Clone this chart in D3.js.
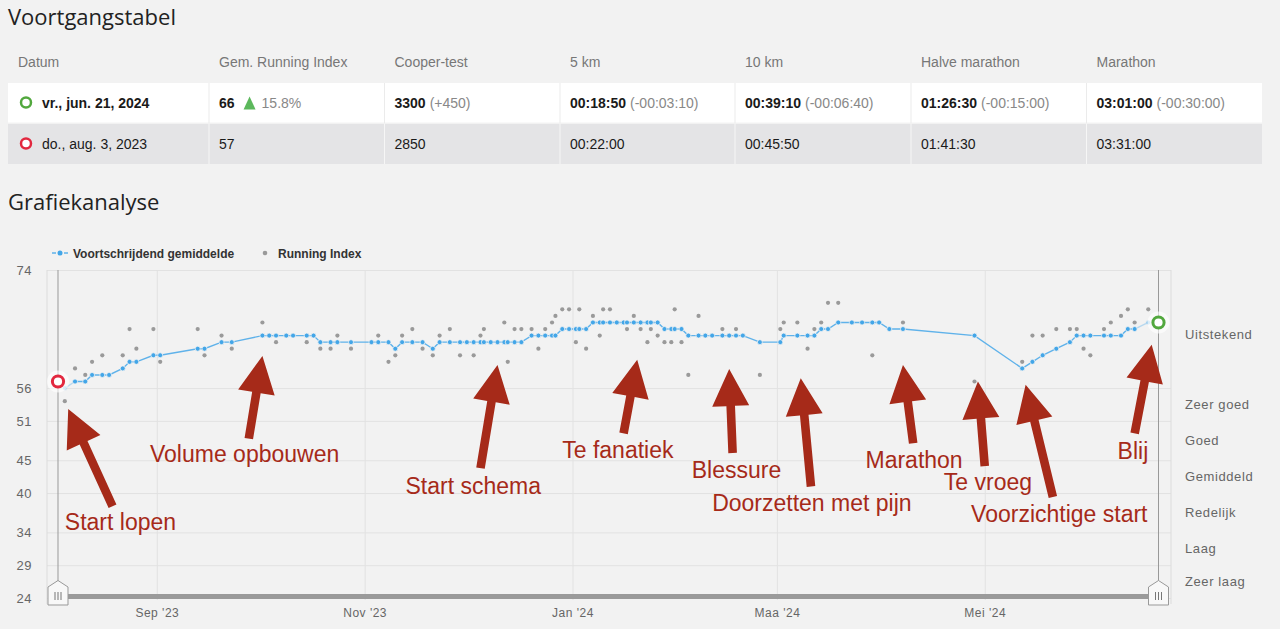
<!DOCTYPE html>
<html>
<head>
<meta charset="utf-8">
<script src="https://cdn.jsdelivr.net/npm/d3@7"></script>
<style>
  body { margin: 0; background: #f2f2f2; }
  svg text { font-family: "Liberation Sans", Arial, Helvetica, sans-serif; }
  .title { font-family: "Open Sans", sans-serif; font-size: 22px; fill: #222; }
</style>
</head>
<body>
<div id="wrapper"></div>
<script>
// ---- table data
const headers = ["Datum", "Gem. Running Index", "Cooper-test", "5 km", "10 km", "Halve marathon", "Marathon"]
const latestRow = ["vr., jun. 21, 2024", "66", "3300", "00:18:50", "00:39:10", "01:26:30", "03:01:00"]
const latestDelta = [null, "15.8%", "(+450)", "(-00:03:10)", "(-00:06:40)", "(-00:15:00)", "(-00:30:00)"]
const firstRow = ["do., aug. 3, 2023", "57", "2850", "00:22:00", "00:45:50", "01:41:30", "03:31:00"]

// ---- chart data
const dates = [
  "2023-08-05","2023-08-08","2023-08-11","2023-08-13","2023-08-16","2023-08-18","2023-08-22","2023-08-24","2023-08-26","2023-08-31",
  "2023-09-02","2023-09-13","2023-09-15","2023-09-20","2023-09-23","2023-10-02","2023-10-04","2023-10-06","2023-10-09","2023-10-11",
  "2023-10-15","2023-10-17","2023-10-19","2023-10-22","2023-10-24","2023-10-28","2023-11-03","2023-11-05","2023-11-08","2023-11-10",
  "2023-11-12","2023-11-15","2023-11-18","2023-11-21","2023-11-23","2023-11-26","2023-11-29","2023-12-01","2023-12-03","2023-12-05",
  "2023-12-06","2023-12-08","2023-12-10","2023-12-12","2023-12-13","2023-12-15","2023-12-17","2023-12-20","2023-12-22","2023-12-24",
  "2023-12-26","2023-12-27","2023-12-29","2023-12-31","2024-01-02","2024-01-03","2024-01-05","2024-01-07","2024-01-09","2024-01-10",
  "2024-01-12","2024-01-14","2024-01-16","2024-01-17","2024-01-19","2024-01-21","2024-01-23","2024-01-24","2024-01-26","2024-01-28",
  "2024-01-30","2024-01-31","2024-02-02","2024-02-04","2024-02-07","2024-02-09","2024-02-11","2024-02-14","2024-02-16","2024-02-18",
  "2024-02-20","2024-02-25","2024-03-02","2024-03-03","2024-03-07","2024-03-10","2024-03-12","2024-03-14","2024-03-16","2024-03-19",
  "2024-03-23","2024-03-26","2024-03-29","2024-03-31","2024-04-03","2024-04-07","2024-04-28","2024-05-12","2024-05-15","2024-05-18",
  "2024-05-22","2024-05-26","2024-05-28","2024-05-30","2024-06-01","2024-06-05","2024-06-07","2024-06-10","2024-06-12","2024-06-14",
  "2024-06-18"
]
const runningIndex = [
  54,59,58,60,61,58,61,65,62,65,
  60,65,61,64,62,66,64,63,64,64,
  63,64,62,62,64,62,63,64,60,61,
  64,65,62,61,64,65,61,63,61,64,
  65,63,63,66,60,65,65,65,62,65,
  66,67,68,68,63,68,62,67,64,68,
  68,66,66,65,67,65,63,65,64,63,
  63,68,63,58,67,64,64,65,64,65,
  64,58,65,66,66,62,65,66,69,69,
  66,66,61,66,65,66,57,60,64,64,
  65,65,65,62,61,65,66,67,68,66,
  68
]
const movingAvg = [
  56,57,57,58,58,58,59,60,60,61,
  61,62,62,63,63,64,64,64,64,64,
  64,64,63,63,63,63,63,63,63,62,
  63,63,63,62,63,63,63,63,63,63,
  63,63,63,63,63,63,63,64,64,64,
  64,64,65,65,65,65,65,66,66,66,
  66,66,66,66,66,66,66,66,66,65,
  65,65,65,64,64,64,64,64,64,64,
  64,63,63,64,64,64,64,65,65,66,
  66,66,66,66,65,65,64,59,60,61,
  62,63,64,64,64,64,64,64,65,65,
  66
]
const yTicks = [24, 29, 34, 40, 45, 51, 56, 74]
const bandLabels = ["Zeer laag", "Laag", "Redelijk", "Gemiddeld", "Goed", "Zeer goed", "Uitstekend"]
const monthTicks = ["2023-09-01", "2023-11-01", "2024-01-01", "2024-03-01", "2024-05-01"]
const monthLabels = ["Sep '23", "Nov '23", "Jan '24", "Maa '24", "Mei '24"]
const rangeStart = "2023-08-03"
const rangeEnd = "2024-06-21"
const startValue = 57
const endValue = 66

// annotations, in data coordinates: [date, running index]
const notes = [
  { label: "Start lopen", tip: ["2023-08-06", 52.8], tail: ["2023-08-19", 38.0], at: ["2023-08-05", 34.3] },
  { label: "Volume opbouwen", tip: ["2023-10-02", 60.9], tail: ["2023-09-28", 48.3], at: ["2023-08-30", 44.7] },
  { label: "Start schema", tip: ["2023-12-10", 59.5], tail: ["2023-12-05", 43.8], at: ["2023-11-13", 39.9] },
  { label: "Te fanatiek", tip: ["2024-01-20", 60.3], tail: ["2024-01-16", 49.1], at: ["2023-12-29", 45.3] },
  { label: "Blessure", tip: ["2024-02-16", 58.9], tail: ["2024-02-17", 46.1], at: ["2024-02-05", 42.3] },
  { label: "Doorzetten met pijn", tip: ["2024-03-08", 57.5], tail: ["2024-03-11", 41.0], at: ["2024-02-11", 37.2] },
  { label: "Marathon", tip: ["2024-04-07", 59.5], tail: ["2024-04-10", 47.6], at: ["2024-03-27", 43.8] },
  { label: "Te vroeg", tip: ["2024-04-29", 57.0], tail: ["2024-05-01", 44.1], at: ["2024-04-19", 40.5] },
  { label: "Voorzichtige start", tip: ["2024-05-13", 56.5], tail: ["2024-05-21", 39.4], at: ["2024-04-27", 35.6] },
  { label: "Blij", tip: ["2024-06-19", 62.6], tail: ["2024-06-14", 49.1], at: ["2024-06-09", 45.2] }
]

const colors = {
  avgLine: "#5fb2ea",
  avgDot: "#43a6e8",
  riDot: "#9a9a9a",
  grid: "#e2e2e2",
  red: "#e2283f",
  green: "#52a83e",
  note: "#a62a19",
  axisText: "#666"
}

const parseDate = d3.timeParse("%Y-%m-%d")
const points = dates.map((d, i) => ({ date: parseDate(d), ri: runningIndex[i], avg: movingAvg[i] }))

// 1. dimensions
const width = 1280
const height = 629
const table = { left: 8, right: 1262, cols: [8, 209, 384.5, 560, 735, 911, 1086.5], headerY: 67, rows: [83, 124], rowH: 40 }
const plot = { left: 47, right: 1171, top: 270, bottom: 598, xStart: 58, xEnd: 1158.5 }

const svg = d3.select("#wrapper")
  .append("svg")
    .attr("width", width)
    .attr("height", height)

// 2. table
svg.append("text").attr("class", "title").attr("x", 8).attr("y", 25).text("Voortgangstabel")

svg.selectAll(".th")
  .data(headers)
  .join("text")
    .attr("class", "th")
    .attr("x", (d, i) => table.cols[i] + 10)
    .attr("y", table.headerY)
    .attr("fill", "#777")
    .style("font-size", "14px")
    .text(d => d)

const colEdges = table.cols.concat([table.right])
const rowFills = ["#ffffff", "#e4e4e6"]
const sepFills = ["#ebebeb", "#f6f6f6"]
table.rows.forEach((top, r) => {
  svg.append("rect")
    .attr("x", table.left).attr("y", top)
    .attr("width", table.right - table.left).attr("height", table.rowH - (r === 0 ? 0.5 : 0))
    .attr("fill", rowFills[r])
  svg.selectAll(".sep" + r)
    .data(table.cols.slice(1))
    .join("line")
      .attr("x1", d => d).attr("x2", d => d)
      .attr("y1", top).attr("y2", top + table.rowH)
      .attr("stroke", sepFills[r])
})

function drawRow(values, deltas, top, bold, iconColor) {
  const cy = top + 19.5
  svg.append("circle")
    .attr("cx", 26).attr("cy", cy).attr("r", 5)
    .attr("fill", "#fff").attr("stroke", iconColor).attr("stroke-width", 2.5)
  values.forEach((v, i) => {
    const x = i === 0 ? 42 : table.cols[i] + 10
    const t = svg.append("text")
      .attr("x", x).attr("y", cy + 5)
      .style("font-size", "14px")
      .attr("fill", "#1a1a1a")
    const main = t.append("tspan").attr("font-weight", bold ? "bold" : "normal").text(v)
    if (deltas && deltas[i]) {
      if (i === 1) {
        const w = main.node().getComputedTextLength()
        const tx = x + w + 9
        svg.append("path")
          .attr("d", d3.line()([[tx, cy + 7], [tx + 12, cy + 7], [tx + 6, cy - 6]]) + "Z")
          .attr("fill", "#5cb85c")
        svg.append("text")
          .attr("x", tx + 18).attr("y", cy + 5)
          .style("font-size", "14px").attr("fill", "#888")
          .text(deltas[i])
      } else {
        t.append("tspan").attr("dx", 4).attr("fill", "#888").text(deltas[i])
      }
    }
  })
}
drawRow(latestRow, latestDelta, table.rows[0], true, colors.green)
drawRow(firstRow, null, table.rows[1], false, colors.red)

// 3. chart
svg.append("text").attr("class", "title").attr("x", 8).attr("y", 210).text("Grafiekanalyse")

const xScale = d3.scaleTime()
  .domain([parseDate(rangeStart), parseDate(rangeEnd)])
  .range([plot.xStart, plot.xEnd])
const yScale = d3.scaleLinear()
  .domain([24, 74])
  .range([plot.bottom, plot.top])

const bounds = svg.append("g")

// gridlines
bounds.append("g")
    .attr("transform", `translate(${plot.left},0)`)
    .call(d3.axisLeft(yScale).tickValues(yTicks).tickSize(-(plot.right - plot.left)).tickFormat(""))
    .call(g => g.select(".domain").remove())
    .call(g => g.selectAll("line").attr("stroke", colors.grid))
bounds.append("g")
    .attr("transform", `translate(0,${plot.bottom + 2})`)
    .call(d3.axisBottom(xScale).tickValues(monthTicks.map(parseDate)).tickSize(-(plot.bottom + 2 - plot.top)).tickFormat(""))
    .call(g => g.select(".domain").remove())
    .call(g => g.selectAll("line").attr("stroke", colors.grid))
bounds.selectAll(".border")
  .data([plot.left, plot.right])
  .join("line")
    .attr("x1", d => d).attr("x2", d => d)
    .attr("y1", plot.top).attr("y2", plot.bottom + 6)
    .attr("stroke", "#dcdcdc")

// left axis labels
bounds.append("g")
    .attr("transform", "translate(32,0)")
    .call(d3.axisLeft(yScale).tickValues(yTicks).tickSize(0).tickPadding(0))
    .call(g => g.select(".domain").remove())
    .call(g => g.selectAll("text")
      .attr("fill", colors.axisText)
      .style("font-size", "13px")
      .style("letter-spacing", "0.5px")
      .style("font-family", "'Liberation Sans', Arial, sans-serif"))

// right band labels
bounds.selectAll(".band")
  .data(bandLabels)
  .join("text")
    .attr("class", "band")
    .attr("x", 1185)
    .attr("y", (d, i) => yScale((yTicks[i] + yTicks[i + 1]) / 2) + (i === bandLabels.length - 1 ? 5 : 0))
    .attr("dy", "0.35em")
    .attr("fill", colors.axisText)
    .style("font-size", "13px")
    .style("letter-spacing", "0.6px")
    .text(d => d)

// bottom axis labels
bounds.append("g")
    .attr("transform", `translate(0,604)`)
    .call(d3.axisBottom(xScale).tickValues(monthTicks.map(parseDate))
      .tickFormat((d, i) => monthLabels[i]).tickSize(0).tickPadding(4.5))
    .call(g => g.select(".domain").remove())
    .call(g => g.selectAll("text")
      .attr("fill", colors.axisText)
      .style("font-size", "12px")
      .style("letter-spacing", "0.5px")
      .style("font-family", "'Liberation Sans', Arial, sans-serif"))

// navigator
const navEnds = [parseDate(rangeStart), parseDate(rangeEnd)]
bounds.append("rect")
  .attr("x", xScale(navEnds[0])).attr("y", 594)
  .attr("width", xScale(navEnds[1]) - xScale(navEnds[0])).attr("height", 5)
  .attr("fill", "#9a9a9a")
bounds.selectAll(".navline")
  .data(navEnds)
  .join("line")
    .attr("x1", d => xScale(d)).attr("x2", d => xScale(d))
    .attr("y1", plot.top).attr("y2", 581)
    .attr("stroke", "#999")
const handles = bounds.selectAll(".handle")
  .data(navEnds)
  .join("g")
    .attr("transform", d => `translate(${xScale(d)},0)`)
handles.append("path")
  .attr("d", d3.line()([[-10, 587], [0, 580.5], [10, 587], [10, 605], [-10, 605]]) + "Z")
  .attr("fill", "#f8f8f8").attr("stroke", "#999")
handles.selectAll("line")
  .data([-3, 0, 3])
  .join("line")
    .attr("x1", d => d).attr("x2", d => d)
    .attr("y1", 592).attr("y2", 600)
    .attr("stroke", "#777")

// legend
const legend = svg.append("g").attr("transform", "translate(0,253)")
legend.append("line").attr("x1", 52).attr("x2", 68).attr("stroke", colors.avgLine).attr("stroke-width", 1.5).attr("stroke-dasharray", "4,2")
legend.append("circle").attr("cx", 60).attr("r", 2.5).attr("fill", colors.avgDot)
legend.append("text").attr("x", 73).attr("y", 4.5).attr("font-weight", "bold").attr("fill", "#333").style("font-size", "12px").text("Voortschrijdend gemiddelde")
legend.append("circle").attr("cx", 265).attr("r", 2.3).attr("fill", colors.riDot)
legend.append("text").attr("x", 278).attr("y", 4.5).attr("font-weight", "bold").attr("fill", "#333").style("font-size", "12px").text("Running Index")

// 4. data
bounds.selectAll(".ri")
  .data(points)
  .join("circle")
    .attr("class", "ri")
    .attr("cx", d => xScale(d.date))
    .attr("cy", d => yScale(d.ri))
    .attr("r", 2.1)
    .attr("fill", colors.riDot)

const lineGen = d3.line().x(d => xScale(d.date)).y(d => yScale(d.avg))
const last = points.length - 1
bounds.append("path")
  .attr("d", lineGen(points.slice(1, last)))
  .attr("fill", "none").attr("stroke", colors.avgLine).attr("stroke-width", 1.4)
bounds.selectAll(".edge")
  .data([points.slice(0, 2), points.slice(last - 1)])
  .join("path")
    .attr("d", lineGen)
    .attr("fill", "none").attr("stroke", colors.avgLine).attr("stroke-width", 1.4)
    .attr("opacity", 0.4)
bounds.selectAll(".avg")
  .data(points)
  .join("circle")
    .attr("class", "avg")
    .attr("cx", d => xScale(d.date))
    .attr("cy", d => yScale(d.avg))
    .attr("r", 2.5)
    .attr("fill", colors.avgDot)
    .attr("stroke", "#f2f2f2")
    .attr("stroke-width", 0.8)
    .attr("opacity", (d, i) => (i === 0 || i === last) ? 0.4 : 1)

// start / end markers
const ends = [
  { date: navEnds[0], value: startValue, color: colors.red },
  { date: navEnds[1], value: endValue, color: colors.green }
]
const endG = bounds.selectAll(".endmark")
  .data(ends)
  .join("g")
    .attr("transform", d => `translate(${xScale(d.date)},${yScale(d.value)})`)
endG.append("circle").attr("r", 11).attr("fill", "#fff").attr("opacity", 0.6)
endG.append("circle").attr("r", 5.6).attr("fill", "#fff").attr("stroke", d => d.color).attr("stroke-width", 3)

// 5. annotations
const toXY = p => [xScale(parseDate(p[0])), yScale(p[1])]
function arrowPath(from, to) {
  const [x1, y1] = from
  const [x2, y2] = to
  const len = Math.hypot(x2 - x1, y2 - y1)
  const ux = (x2 - x1) / len, uy = (y2 - y1) / len
  const nx = -uy, ny = ux
  const head = 37, hw = 18.5, sw = 4.3
  const bx = x2 - ux * head, by = y2 - uy * head
  return d3.line()([
    [x1 + nx * sw, y1 + ny * sw], [bx + nx * sw, by + ny * sw], [bx + nx * hw, by + ny * hw],
    [x2, y2],
    [bx - nx * hw, by - ny * hw], [bx - nx * sw, by - ny * sw], [x1 - nx * sw, y1 - ny * sw]
  ]) + "Z"
}
const noteG = svg.append("g")
noteG.selectAll("path")
  .data(notes)
  .join("path")
    .attr("d", d => arrowPath(toXY(d.tail), toXY(d.tip)))
    .attr("fill", colors.note)
noteG.selectAll("text")
  .data(notes)
  .join("text")
    .attr("x", d => toXY(d.at)[0])
    .attr("y", d => toXY(d.at)[1])
    .attr("fill", colors.note)
    .style("font-size", "23px")
    .text(d => d.label)
</script>
</body>
</html>
